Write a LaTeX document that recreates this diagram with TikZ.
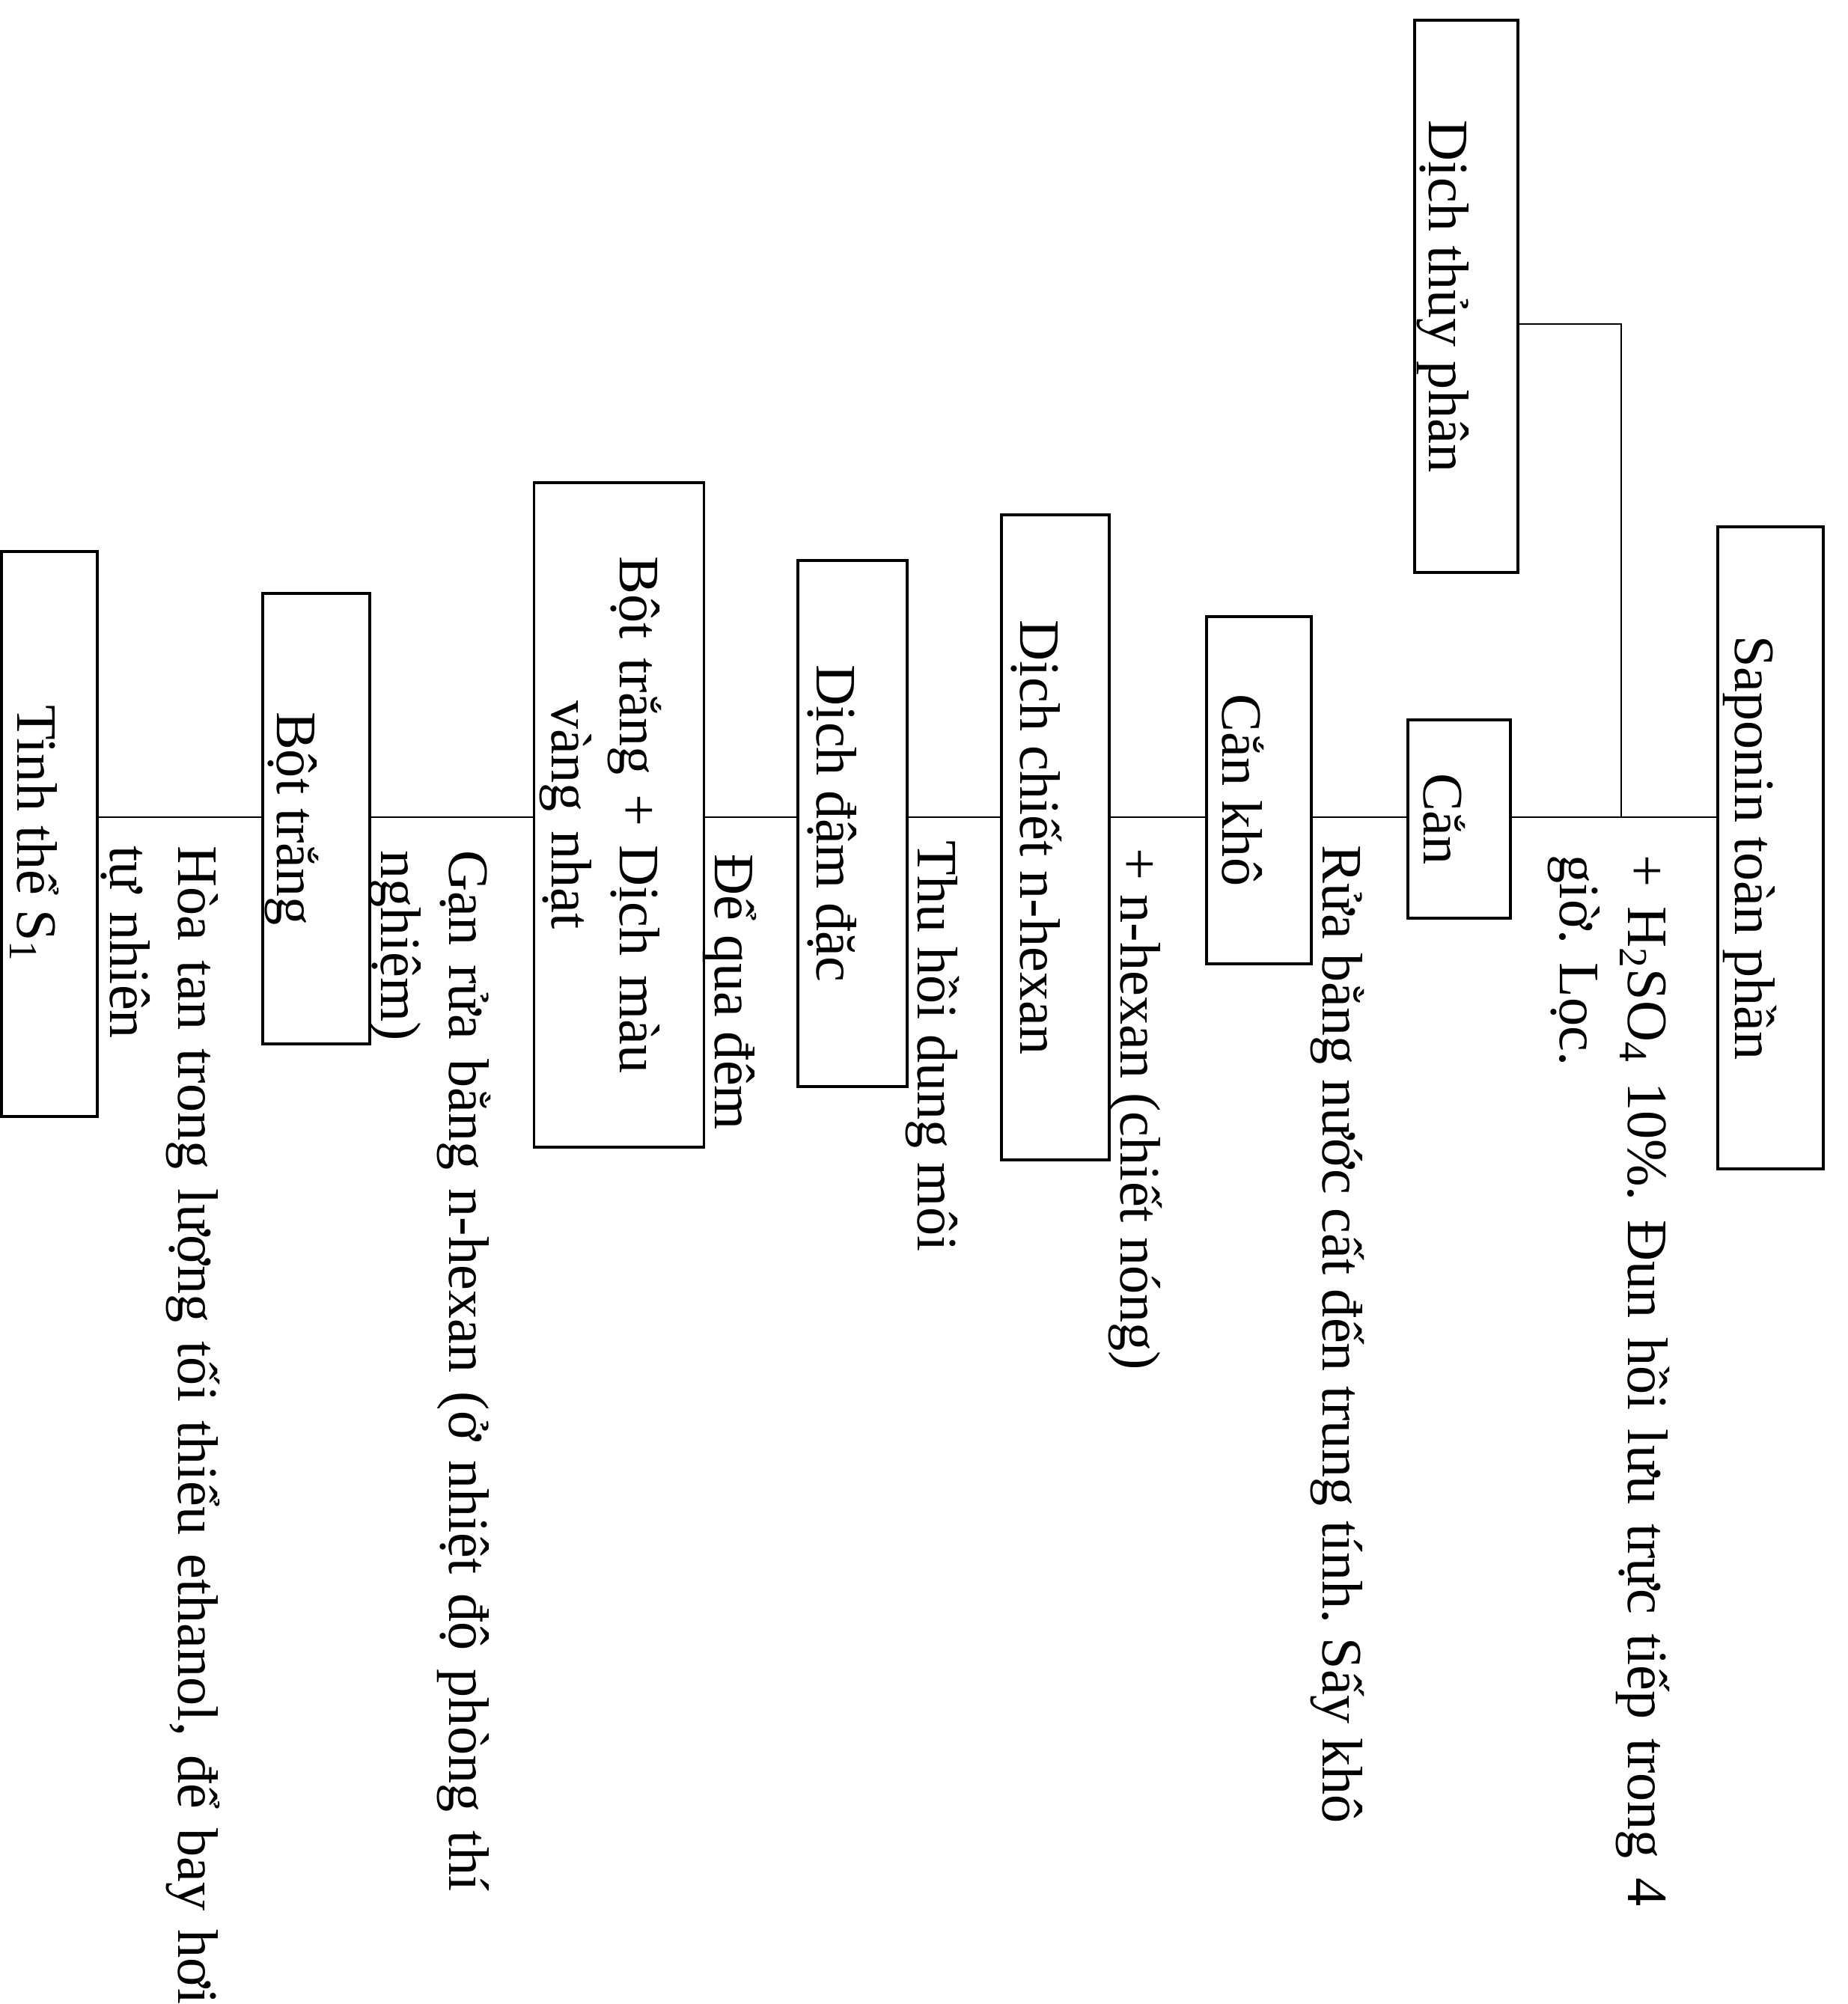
\documentclass[tikz,border=0pt]{standalone}
\usepackage{fontspec}
\setmainfont{Liberation Serif}
\usepackage{tikz}
\newcommand{\hopfont}{\fontsize{21.7}{25.8}\selectfont}
\frenchspacing

\begin{document}
\begin{tikzpicture}[
    hop/.style={draw, line width=1pt, rotate=-90, inner sep=0pt, text depth=0.21cm, font=\hopfont},
    note/.style={rotate=-90, anchor=base west, inner sep=0pt, font=\hopfont, align=left},
    noi/.style={line width=0.7pt}]
  \useasboundingbox (0,0) rectangle (24.69,-26.78);

  \node[hop, minimum width=7.38cm, minimum height=1.38cm, text height=1.19cm, text depth=0.19cm] (thuyphan) at (19.59,-3.96) {Dịch thủy phân};
  \node[hop, minimum width=8.58cm, minimum height=1.41cm, text height=1.18cm, text depth=0.23cm] (saponin) at (23.655,-11.33) {Saponin toàn phần};
  \node[hop, minimum width=2.65cm, minimum height=1.37cm, text height=1.16cm] (can) at (19.495,-10.945) {Cắn};
  \node[hop, minimum width=4.64cm, minimum height=1.40cm, text height=1.19cm] (cankho) at (16.82,-10.56) {Cắn khô};
  \node[hop, minimum width=8.62cm, minimum height=1.44cm, text height=1.19cm, text depth=0.25cm] (chiet) at (14.10,-11.19) {Dịch chiết n-hexan};
  \node[hop, minimum width=7.03cm, minimum height=1.46cm, text height=1.21cm, text depth=0.25cm] (damdac) at (11.39,-11.005) {Dịch đậm đặc};
  \node[hop, text width=8.6cm, align=center, minimum width=8.88cm, minimum height=2.27cm, text height=1.12cm, text depth=1.15cm] (botvang) at (8.27,-10.89) {Bột trắng + Dịch màu\\vàng nhạt};
  \node[hop, minimum width=6.02cm, minimum height=1.43cm, text height=1.24cm, text depth=0.19cm] (bottrang) at (4.225,-10.94) {Bột trắng};
  \node[hop, minimum width=7.55cm, minimum height=1.28cm, text height=1.06cm, text depth=0.22cm] (tinhthe) at (0.66,-11.145) {Tinh thể S\textsubscript{1}};

  \node[note, text width=14.5cm] (h2so4) at (21.75,-11.42) {+ H\textsubscript{2}SO\textsubscript{4} 10\%. Đun hồi lưu trực tiếp trong 4\\giờ. Lọc.};
  \node[note] (rua) at (17.67,-11.29) {Rửa bằng nước cất đến trung tính. Sấy khô};
  \node[note] (hexan) at (14.97,-11.33) {+ n-hexan (chiết nóng)};
  \node[note] (thuhoi) at (12.26,-11.23) {Thu hồi dung môi};
  \node[note] (quadem) at (9.55,-11.41) {Để qua đêm};
  \node[note, text width=14.5cm] (ganrua) at (6.0,-11.36) {Gạn rửa bằng n-hexan (ở nhiệt độ phòng thí\\nghiệm)};
  \node[note, text width=16.2cm] (hoatan) at (2.38,-11.3) {Hòa tan trong lượng tối thiểu ethanol, để bay hơi\\tự nhiên};

  \coordinate (spine) at (0,-10.92);
  \coordinate (nhanh) at (21.66,-10.92);
  \draw[noi] (thuyphan.north |- 0,-4.33) -| (nhanh);
  \draw[noi] (saponin.south |- spine) -- (can.north |- spine);
  \draw[noi] (can.south |- spine) -- (cankho.north |- spine);
  \draw[noi] (cankho.south |- spine) -- (chiet.north |- spine);
  \draw[noi] (chiet.south |- spine) -- (damdac.north |- spine);
  \draw[noi] (damdac.south |- spine) -- (botvang.north |- spine);
  \draw[noi] (botvang.south |- spine) -- (bottrang.north |- spine);
  \draw[noi] (bottrang.south |- spine) -- (tinhthe.north |- spine);
\end{tikzpicture}
\end{document}
